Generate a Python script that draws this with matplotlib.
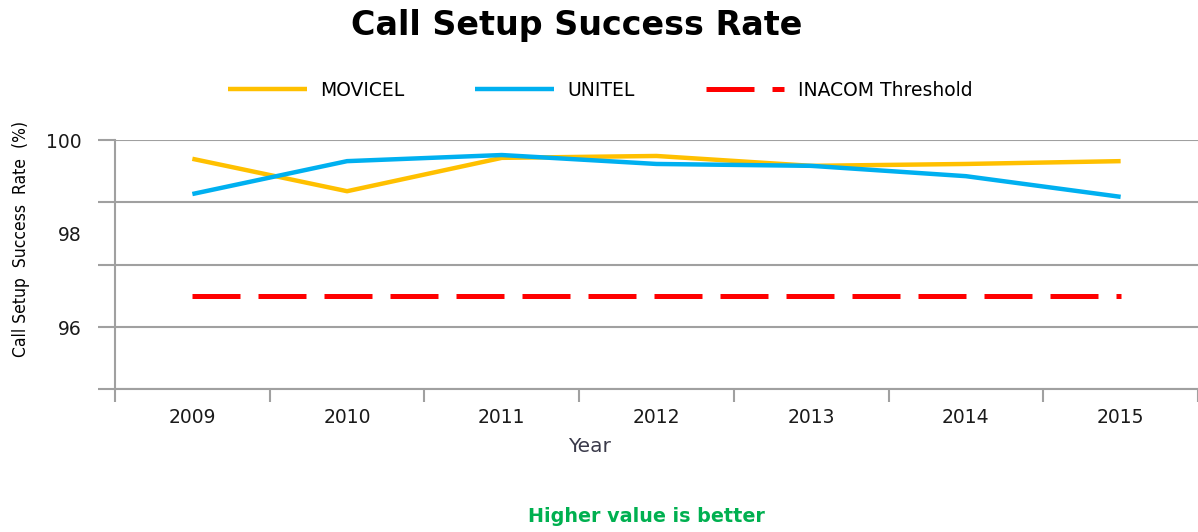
import matplotlib
matplotlib.use("Agg")
import matplotlib.pyplot as plt
import numpy as np

years = ["2009", "2010", "2011", "2012", "2013", "2014", "2015"]
movicel = [99.60, 98.91, 99.62, 99.66, 99.45, 99.49, 99.55]
unitel = [98.85, 99.55, 99.68, 99.49, 99.45, 99.23, 98.79]
threshold = [96.68] * 7
ytick_labels = [96, 98, 100]

YMIN, YMAX = 94.7, 100.0

W, H = 1198, 532
fig = plt.figure(figsize=(W / 100, H / 100), dpi=100)
ax = fig.add_axes([115 / W, 1 - 389 / H, (1198 - 115) / W, (389 - 140) / H])

x = np.arange(len(years))
ax.plot(x, movicel, color="#FFC000", lw=3.2, solid_capstyle="butt", label="MOVICEL", zorder=3)
ax.plot(x, unitel, color="#00B0F0", lw=3.2, solid_capstyle="butt", label="UNITEL", zorder=3)
ax.plot(x, threshold, color="#FF0000", lw=3.6, dashes=(9.6, 3.6), dash_capstyle="butt",
        label="INACOM Threshold", zorder=3)

ax.set_xlim(-0.5, len(years) - 0.5)
ax.set_ylim(YMIN, YMAX)

grid_color = "#A0A0A0"
ax.set_yticks(np.linspace(YMIN, YMAX, 5))
ax.set_yticklabels([])
ax.yaxis.remove_overlapping_locs = False
ax.set_yticks(ytick_labels, minor=True)
ax.set_yticklabels([str(v) for v in ytick_labels], minor=True)
ax.tick_params(axis="y", which="major", length=12, width=1.5, color=grid_color)
ax.tick_params(axis="y", which="minor", length=0, pad=24, labelsize=13.5, labelcolor="#1a1a1a")
ax.grid(axis="y", which="major", color=grid_color, lw=1.5)

ax.set_xticks(np.arange(-0.5, len(years) + 0.5, 1.0))
ax.set_xticklabels([])
ax.xaxis.remove_overlapping_locs = False
ax.set_xticks(x, minor=True)
ax.set_xticklabels(years, minor=True)
ax.tick_params(axis="x", which="major", length=9, width=1.5, color=grid_color)
ax.tick_params(axis="x", which="minor", length=0, pad=14, labelsize=13.5, labelcolor="#1a1a1a")

for s in ["top", "right"]:
    ax.spines[s].set_visible(False)
for s in ["left", "bottom"]:
    ax.spines[s].set_color(grid_color)
    ax.spines[s].set_linewidth(1.5)
ax.set_axisbelow(True)

ax.set_xlabel("Year", fontsize=14.5, color="#3a3a4a")
ax.xaxis.set_label_coords((589 - 115) / (W - 115), -(447 - 389) / 249)
ax.xaxis.label.set_va("center")
ax.set_ylabel("Call Setup  Success  Rate  (%)", fontsize=12.5, fontstretch="condensed")
ax.yaxis.set_label_coords(-(115 - 21) / (W - 115), (389 - 239) / 249)
ax.yaxis.label.set_va("center")

fig.text(577 / W, 1 - 25 / H, "Call Setup Success Rate", ha="center", va="center",
         fontsize=24, fontweight="bold", color="black")
fig.text(646 / W, 1 - 517 / H, "Higher value is better", ha="center", va="center",
         fontsize=13.8, fontweight="bold", color="#00B050")

handles, labels = ax.get_legend_handles_labels()
fig.legend(handles, labels, loc="center", bbox_to_anchor=(600 / W, 1 - 90 / H), ncol=3,
           frameon=False, fontsize=13.5, handlelength=4.2, handletextpad=0.7,
           columnspacing=3.8)

fig.savefig("out.png", dpi=100)
